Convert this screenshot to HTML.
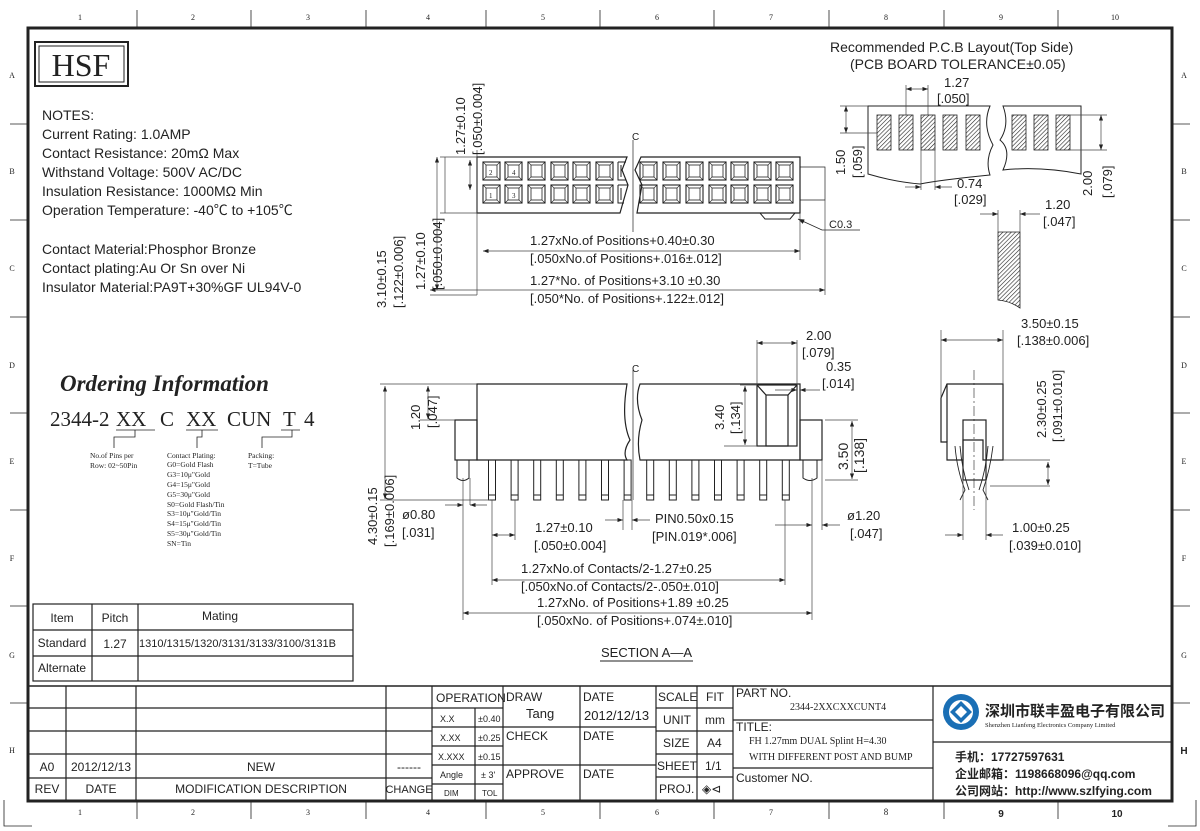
<!DOCTYPE html>
<html><head><meta charset="utf-8"><style>
html,body{margin:0;padding:0;background:#fff}
svg{display:block}
text{font-family:"Liberation Sans","Noto Sans CJK SC",sans-serif;fill:#222}
.s,.s text{font-family:"Liberation Serif","Noto Serif CJK SC",serif}
.d{font-size:13px;fill:#333}
</style></head><body>
<svg width="1200" height="831" viewBox="0 0 1200 831" xmlns="http://www.w3.org/2000/svg" xmlns:xlink="http://www.w3.org/1999/xlink" stroke="#222" fill="none" stroke-width="1">
<defs>
<pattern id="h" width="3" height="3" patternUnits="userSpaceOnUse" patternTransform="rotate(45)"><rect width="3" height="3" fill="#fff" stroke="none"/><line x1="0" y1="0" x2="0" y2="3" stroke="#222" stroke-width="1.2"/></pattern>
<marker id="a" markerWidth="8" markerHeight="6" refX="8" refY="3" orient="auto-start-reverse"><path d="M0,0 L8,3 L0,6z" fill="#222" stroke="none"/></marker>
<g id="c"><rect x="0" y="162" width="17" height="18" stroke-width="1.1"/><rect x="3" y="165" width="11" height="12" stroke-width="0.8"/><path d="M0,162 L3,165 M17,162 L14,165 M0,180 L3,177 M17,180 L14,177" stroke-width="0.6"/><rect x="0" y="185" width="17" height="18" stroke-width="1.1"/><rect x="3" y="188" width="11" height="12" stroke-width="0.8"/><path d="M0,185 L3,188 M17,185 L14,188 M0,203 L3,200 M17,203 L14,200" stroke-width="0.6"/></g>
<g id="p"><rect x="-3.5" y="460" width="7" height="40" stroke-width="1"/><line x1="-3.5" y1="495" x2="3.5" y2="495"/></g>
</defs>
<rect x="28" y="28" width="1144" height="773" stroke-width="3"/>
<g stroke-width="0.8">
<line x1="137" y1="10" x2="137" y2="28"/><line x1="251" y1="10" x2="251" y2="28"/><line x1="366" y1="10" x2="366" y2="28"/><line x1="486" y1="10" x2="486" y2="28"/><line x1="600" y1="10" x2="600" y2="28"/><line x1="714" y1="10" x2="714" y2="28"/><line x1="829" y1="10" x2="829" y2="28"/><line x1="944" y1="10" x2="944" y2="28"/><line x1="1058" y1="10" x2="1058" y2="28"/>
<line x1="137" y1="801" x2="137" y2="819"/><line x1="251" y1="801" x2="251" y2="819"/><line x1="366" y1="801" x2="366" y2="819"/><line x1="486" y1="801" x2="486" y2="819"/><line x1="600" y1="801" x2="600" y2="819"/><line x1="714" y1="801" x2="714" y2="819"/><line x1="829" y1="801" x2="829" y2="819"/><line x1="944" y1="801" x2="944" y2="819"/><line x1="1058" y1="801" x2="1058" y2="819"/>
<line x1="10" y1="124" x2="28" y2="124"/><line x1="10" y1="220" x2="28" y2="220"/><line x1="10" y1="317" x2="28" y2="317"/><line x1="10" y1="413" x2="28" y2="413"/><line x1="10" y1="510" x2="28" y2="510"/><line x1="10" y1="606" x2="28" y2="606"/><line x1="10" y1="703" x2="28" y2="703"/>
<line x1="1172" y1="124" x2="1190" y2="124"/><line x1="1172" y1="220" x2="1190" y2="220"/><line x1="1172" y1="317" x2="1190" y2="317"/><line x1="1172" y1="413" x2="1190" y2="413"/><line x1="1172" y1="510" x2="1190" y2="510"/><line x1="1172" y1="606" x2="1190" y2="606"/><line x1="1172" y1="703" x2="1190" y2="703"/>
<path d="M4,800 V826 H32"/><path d="M1196,800 V826 H1168"/>
</g>
<g class="s" font-size="8" stroke="none" text-anchor="middle">
<text x="80" y="20">1</text><text x="193" y="20">2</text><text x="308" y="20">3</text><text x="428" y="20">4</text><text x="543" y="20">5</text><text x="657" y="20">6</text><text x="771" y="20">7</text><text x="886" y="20">8</text><text x="1001" y="20">9</text><text x="1115" y="20">10</text>
<text x="80" y="815">1</text><text x="193" y="815">2</text><text x="308" y="815">3</text><text x="428" y="815">4</text><text x="543" y="815">5</text><text x="657" y="815">6</text><text x="771" y="815">7</text><text x="886" y="815" font-size="9">8</text>
<text x="12" y="78">A</text><text x="12" y="174">B</text><text x="12" y="271">C</text><text x="12" y="368">D</text><text x="12" y="464">E</text><text x="12" y="561">F</text><text x="12" y="658">G</text><text x="12" y="753">H</text>
<text x="1184" y="78">A</text><text x="1184" y="174">B</text><text x="1184" y="271">C</text><text x="1184" y="368">D</text><text x="1184" y="464">E</text><text x="1184" y="561">F</text><text x="1184" y="658">G</text>
</g>
<text x="1184" y="754" font-size="10" text-anchor="middle" stroke="none" font-weight="bold">H</text>
<text x="1001" y="817" font-size="10" text-anchor="middle" stroke="none" font-weight="bold">9</text>
<text x="1117" y="817" font-size="10" text-anchor="middle" stroke="none" font-weight="bold">10</text>

<rect x="35" y="42" width="93" height="44" stroke-width="2"/>
<rect x="39" y="46" width="85" height="36"/>
<text class="s" x="81" y="76" font-size="32" text-anchor="middle" stroke="none">HSF</text>

<g font-size="14" stroke="none" fill="#222">
<text x="42" y="120">NOTES:</text>
<text x="42" y="139">Current Rating: 1.0AMP</text>
<text x="42" y="158">Contact Resistance: 20mΩ Max</text>
<text x="42" y="177">Withstand Voltage: 500V AC/DC</text>
<text x="42" y="196">Insulation Resistance: 1000MΩ Min</text>
<text x="42" y="215">Operation Temperature: -40℃ to +105℃</text>
<text x="42" y="254">Contact Material:Phosphor Bronze</text>
<text x="42" y="273">Contact plating:Au Or Sn over Ni</text>
<text x="42" y="292">Insulator Material:PA9T+30%GF UL94V-0</text>
</g>

<text class="s" x="60" y="391" font-size="23" font-weight="bold" font-style="italic" stroke="none">Ordering Information</text>
<g class="s" font-size="21" stroke="none">
<text x="50" y="426">2344-2</text><text x="116" y="426">XX</text><text x="160" y="426">C</text><text x="186" y="426">XX</text><text x="227" y="426">CUN</text><text x="283" y="426">T</text><text x="304" y="426">4</text>
</g>
<g stroke-width="0.8">
<path d="M116,430 H155 M135,430 V437 H114 V448"/>
<path d="M186,430 H218 M202,430 V437 H197 V448"/>
<path d="M281,430 H300 M292,430 V437 H262 V448"/>
</g>
<g class="s" font-size="7.5" stroke="none">
<text x="90" y="458">No.of Pins per</text><text x="90" y="468">Row: 02~50Pin</text>
<text x="167" y="458">Contact Plating:</text><text x="167" y="467">G0=Gold Flash</text><text x="167" y="477">G3=10μ"Gold</text><text x="167" y="487">G4=15μ"Gold</text><text x="167" y="497">G5=30μ"Gold</text><text x="167" y="507">S0=Gold Flash/Tin</text><text x="167" y="516">S3=10μ"Gold/Tin</text><text x="167" y="526">S4=15μ"Gold/Tin</text><text x="167" y="536">S5=30μ"Gold/Tin</text><text x="167" y="546">SN=Tin</text>
<text x="248" y="458">Packing:</text><text x="248" y="468">T=Tube</text>
</g>
<g stroke-width="1.2">
<rect x="33" y="604" width="320" height="77"/>
<line x1="33" y1="630" x2="353" y2="630"/><line x1="33" y1="656" x2="353" y2="656"/>
<line x1="92" y1="604" x2="92" y2="681"/><line x1="138" y1="604" x2="138" y2="681"/>
</g>
<g font-size="12" stroke="none">
<text x="62" y="622" text-anchor="middle">Item</text><text x="115" y="622" text-anchor="middle">Pitch</text><text x="220" y="620" text-anchor="middle">Mating</text>
<text x="62" y="647" text-anchor="middle">Standard</text><text x="115" y="648" text-anchor="middle">1.27</text><text x="139" y="647" font-size="11">1310/1315/1320/3131/3133/3100/3131B</text>
<text x="62" y="672" text-anchor="middle">Alternate</text>
</g>

<path d="M477,157 H627 L622,170 L628,185 L620,213 H477 Z" stroke-width="1.2"/>
<path d="M641,157 H800 V213 H637 L642,185 L635,170 Z" stroke-width="1.2"/>
<path d="M760,213 L765,219 H790 L795,213"/>
<use xlink:href="#c" x="483"/><use xlink:href="#c" x="505"/><use xlink:href="#c" x="528"/><use xlink:href="#c" x="551"/><use xlink:href="#c" x="573"/><use xlink:href="#c" x="596"/>
<path d="M618,162 h8 M618,162 v18 h8 M618,185 h10 M618,185 v18 h6 M621,165 v12 M621,188 v12"/>
<use xlink:href="#c" x="640"/><use xlink:href="#c" x="663"/><use xlink:href="#c" x="686"/><use xlink:href="#c" x="709"/><use xlink:href="#c" x="731"/><use xlink:href="#c" x="754"/><use xlink:href="#c" x="776"/>
<line x1="633" y1="140" x2="633" y2="232" stroke-width="0.7"/>
<text x="632" y="140" font-size="10" stroke="none">C</text>
<path d="M800,167 H825 V200 H800" stroke-width="0.7"/>
<g font-size="7" class="s" stroke="none"><text x="489" y="175">2</text><text x="512" y="175">4</text><text x="489" y="198">1</text><text x="512" y="198">3</text></g>
<path d="M798,219 L822,230 H860" stroke-width="0.8" marker-start="url(#a)"/>
<text x="829" y="228" font-size="11" stroke="none">C0.3</text>

<g stroke-width="0.7" stroke="#444">
<line x1="477" y1="150" x2="477" y2="295"/><line x1="800" y1="213" x2="800" y2="260"/><line x1="825" y1="200" x2="825" y2="295"/>
<line x1="483" y1="251" x2="800" y2="251" marker-start="url(#a)" marker-end="url(#a)"/>
<line x1="430" y1="290" x2="825" y2="290" marker-start="url(#a)" marker-end="url(#a)"/>
<line x1="440" y1="157" x2="477" y2="157"/><line x1="440" y1="213" x2="477" y2="213"/><line x1="430" y1="295" x2="477" y2="295"/>
<line x1="470" y1="160" x2="470" y2="190" marker-start="url(#a)" marker-end="url(#a)"/>
<line x1="445" y1="157" x2="445" y2="213"/>
<line x1="437" y1="157" x2="437" y2="290" marker-start="url(#a)" marker-end="url(#a)"/>
</g>
<g class="d" stroke="none">
<text x="530" y="245">1.27xNo.of Positions+0.40±0.30</text>
<text x="530" y="263">[.050xNo.of Positions+.016±.012]</text>
<text x="530" y="285">1.27*No. of Positions+3.10 ±0.30</text>
<text x="530" y="303">[.050*No. of Positions+.122±.012]</text>
<text transform="translate(465,155) rotate(-90)">1.27±0.10</text>
<text transform="translate(482,155) rotate(-90)">[.050±0.004]</text>
<text transform="translate(386,308) rotate(-90)">3.10±0.15</text>
<text transform="translate(403,308) rotate(-90)">[.122±0.006]</text>
<text transform="translate(425,290) rotate(-90)">1.27±0.10</text>
<text transform="translate(442,290) rotate(-90)">[.050±0.004]</text>
</g>

<text x="830" y="52" font-size="14" stroke="none" fill="#333">Recommended P.C.B Layout(Top Side)</text>
<text x="850" y="69" font-size="14" stroke="none" fill="#333">(PCB BOARD TOLERANCE±0.05)</text>
<path d="M868,106 H990 Q982,125 993,145 Q985,160 990,175 Q940,180 920,184 Q895,182 868,174 Z" stroke-width="1"/>
<path d="M1003,106 H1081 V174 Q1040,166 1003,170 Q1012,150 1000,140 Q1010,125 1003,106 Z" stroke-width="1"/>
<g fill="url(#h)" stroke="#222" stroke-width="0.8">
<rect x="877" y="115" width="14" height="35"/><rect x="899" y="115" width="14" height="35"/><rect x="921" y="115" width="14" height="35"/><rect x="943" y="115" width="14" height="35"/><rect x="966" y="115" width="14" height="35"/>
<rect x="1012" y="115" width="14" height="35"/><rect x="1034" y="115" width="14" height="35"/><rect x="1056" y="115" width="14" height="35"/>
<path d="M998,232 H1020 V308 Q1010,301 998,300 Z"/>
</g>
<g stroke-width="0.7" stroke="#444">
<line x1="906" y1="85" x2="906" y2="115"/><line x1="928" y1="85" x2="928" y2="115"/>
<line x1="906" y1="89" x2="928" y2="89" marker-start="url(#a)" marker-end="url(#a)"/>
<line x1="921" y1="150" x2="921" y2="190"/><line x1="935" y1="150" x2="935" y2="190"/>
<line x1="905" y1="187" x2="921" y2="187" marker-end="url(#a)"/><line x1="952" y1="187" x2="935" y2="187" marker-end="url(#a)"/>
<line x1="840" y1="106" x2="868" y2="106"/><line x1="840" y1="133" x2="877" y2="133"/>
<line x1="846" y1="106" x2="846" y2="133" marker-start="url(#a)" marker-end="url(#a)"/>
<line x1="1070" y1="115" x2="1107" y2="115"/><line x1="1070" y1="150" x2="1107" y2="150"/>
<line x1="1101" y1="115" x2="1101" y2="150" marker-start="url(#a)" marker-end="url(#a)"/>
<line x1="998" y1="210" x2="998" y2="232"/><line x1="1020" y1="210" x2="1020" y2="232"/>
<line x1="980" y1="214" x2="998" y2="214" marker-end="url(#a)"/><line x1="1040" y1="214" x2="1020" y2="214" marker-end="url(#a)"/>
</g>
<g class="d" stroke="none" font-size="14">
<text x="944" y="87">1.27</text><text x="937" y="103">[.050]</text>
<text x="957" y="188">0.74</text><text x="954" y="204">[.029]</text>
<text x="1045" y="209" font-size="13">1.20</text><text x="1043" y="226" font-size="13">[.047]</text>
<text transform="translate(845,175) rotate(-90)">1.50</text><text transform="translate(862,178) rotate(-90)">[.059]</text>
<text transform="translate(1092,196) rotate(-90)" font-size="13">2.00</text><text transform="translate(1112,198) rotate(-90)" font-size="13">[.079]</text>
</g>

<g stroke-width="1.2">
<path d="M477,384 H627 Q621,420 630,440 Q622,452 627,460 H477 Z"/>
<path d="M640,384 H800 V460 H640 Q636,440 642,420 Q634,400 640,384 Z"/>
<rect x="455" y="420" width="22" height="40"/><rect x="800" y="420" width="22" height="40"/>
<rect x="757" y="385" width="40" height="61"/>
<rect x="766" y="395" width="22" height="51"/>
<path d="M757,385 L766,395 M797,385 L788,395"/>
<path d="M457,460 V478 Q463,483 469,478 V460 M803,460 V478 Q810,483 817,478 V460" stroke-width="1"/>
</g>
<use xlink:href="#p" x="492"/><use xlink:href="#p" x="514.6"/><use xlink:href="#p" x="537.2"/><use xlink:href="#p" x="559.8"/><use xlink:href="#p" x="582.4"/><use xlink:href="#p" x="605"/><use xlink:href="#p" x="627.6"/><use xlink:href="#p" x="650.2"/><use xlink:href="#p" x="672.8"/><use xlink:href="#p" x="695.4"/><use xlink:href="#p" x="718"/><use xlink:href="#p" x="740.6"/><use xlink:href="#p" x="763.2"/><use xlink:href="#p" x="785.8"/>
<line x1="633" y1="370" x2="633" y2="500" stroke-width="0.7"/>
<text x="632" y="372" font-size="10" stroke="none">C</text>
<g stroke-width="0.7" stroke="#444">
<line x1="757" y1="340" x2="757" y2="385"/><line x1="797" y1="340" x2="797" y2="385"/>
<line x1="757" y1="343" x2="797" y2="343" marker-start="url(#a)" marker-end="url(#a)"/>
<line x1="775" y1="390" x2="797" y2="390" marker-end="url(#a)"/><line x1="820" y1="390" x2="800" y2="390" marker-end="url(#a)"/>
<line x1="740" y1="385" x2="757" y2="385"/><line x1="724" y1="446" x2="757" y2="446"/>
<line x1="745" y1="386" x2="745" y2="445" marker-start="url(#a)" marker-end="url(#a)"/>
<line x1="825" y1="420" x2="858" y2="420"/><line x1="825" y1="480" x2="858" y2="480"/>
<line x1="852" y1="421" x2="852" y2="479" marker-start="url(#a)" marker-end="url(#a)"/>
<line x1="380" y1="384" x2="477" y2="384"/><line x1="420" y1="420" x2="455" y2="420"/><line x1="380" y1="500" x2="490" y2="500"/>
<line x1="428" y1="386" x2="428" y2="419" marker-start="url(#a)" marker-end="url(#a)"/>
<line x1="385" y1="386" x2="385" y2="499" marker-start="url(#a)" marker-end="url(#a)"/>
<line x1="463" y1="478" x2="463" y2="620"/><line x1="470" y1="478" x2="470" y2="505"/>
<line x1="445" y1="505" x2="463" y2="505" marker-end="url(#a)"/><line x1="487" y1="505" x2="470" y2="505" marker-end="url(#a)"/>
<line x1="492" y1="500" x2="492" y2="585"/><line x1="515" y1="500" x2="515" y2="540"/>
<line x1="492" y1="535" x2="515" y2="535" marker-start="url(#a)" marker-end="url(#a)"/>
<line x1="623" y1="500" x2="623" y2="530"/><line x1="632" y1="500" x2="632" y2="530"/>
<line x1="605" y1="520" x2="623" y2="520" marker-end="url(#a)"/><line x1="650" y1="520" x2="632" y2="520" marker-end="url(#a)"/>
<line x1="785" y1="500" x2="785" y2="585"/><line x1="812" y1="478" x2="812" y2="620"/><line x1="822" y1="460" x2="822" y2="530"/>
<line x1="775" y1="525" x2="812" y2="525" marker-end="url(#a)"/><line x1="840" y1="525" x2="822" y2="525" marker-end="url(#a)"/>
<line x1="492" y1="580" x2="785" y2="580" marker-start="url(#a)" marker-end="url(#a)"/>
<line x1="463" y1="613" x2="812" y2="613" marker-start="url(#a)" marker-end="url(#a)"/>
</g>
<g class="d" stroke="none">
<text x="806" y="340">2.00</text><text x="802" y="357">[.079]</text>
<text x="826" y="371">0.35</text><text x="822" y="388">[.014]</text>
<text transform="translate(724,430) rotate(-90)">3.40</text><text transform="translate(740,434) rotate(-90)">[.134]</text>
<text transform="translate(848,470) rotate(-90)" font-size="14" fill="#222">3.50</text><text transform="translate(864,473) rotate(-90)" font-size="14" fill="#222">[.138]</text>
<text transform="translate(420,430) rotate(-90)">1.20</text><text transform="translate(437,428) rotate(-90)">[.047]</text>
<text transform="translate(377,545) rotate(-90)">4.30±0.15</text><text transform="translate(394,547) rotate(-90)">[.169±0.006]</text>
<text x="402" y="519">ø0.80</text><text x="402" y="537">[.031]</text>
<text x="535" y="532">1.27±0.10</text><text x="534" y="550">[.050±0.004]</text>
<text x="655" y="523">PIN0.50x0.15</text><text x="652" y="541">[PIN.019*.006]</text>
<text x="847" y="520">ø1.20</text><text x="850" y="538">[.047]</text>
<text x="521" y="573">1.27xNo.of Contacts/2-1.27±0.25</text>
<text x="521" y="591">[.050xNo.of Contacts/2-.050±.010]</text>
<text x="537" y="607">1.27xNo. of Positions+1.89 ±0.25</text>
<text x="537" y="625">[.050xNo. of Positions+.074±.010]</text>
</g>
<text x="601" y="657" font-size="13" stroke="none">SECTION A—A</text>
<line x1="600" y1="661" x2="693" y2="661" stroke-width="1"/>

<g stroke-width="1.2">
<path d="M941,398 L947,384 H1003 V460 H983 V440 H963 V460 H947 V442 H941 Z"/>
<path d="M947,384 V442"/>
<rect x="963" y="420" width="23" height="60"/>
<path d="M955,446 Q957,470 965,490 L960,500 M960,446 Q962,470 969,490" stroke-width="0.9"/>
<path d="M993,446 Q990,470 983,490 L988,500 M988,446 Q986,470 979,490" stroke-width="0.9"/>
</g>
<line x1="974" y1="370" x2="974" y2="510" stroke-width="0.6" stroke-dasharray="10,3,2,3"/>
<g stroke-width="0.7" stroke="#444">
<line x1="941" y1="330" x2="941" y2="398"/><line x1="1003" y1="330" x2="1003" y2="384"/>
<line x1="941" y1="340" x2="1003" y2="340" marker-start="url(#a)" marker-end="url(#a)"/>
<line x1="1003" y1="460" x2="1050" y2="460"/><line x1="990" y1="486" x2="1050" y2="486"/>
<line x1="1048" y1="462" x2="1048" y2="485" marker-start="url(#a)" marker-end="url(#a)"/>
<line x1="963" y1="480" x2="963" y2="540"/><line x1="986" y1="480" x2="986" y2="540"/>
<line x1="945" y1="535" x2="963" y2="535" marker-end="url(#a)"/><line x1="1003" y1="535" x2="986" y2="535" marker-end="url(#a)"/>
</g>
<g class="d" stroke="none">
<text x="1021" y="328">3.50±0.15</text><text x="1017" y="345">[.138±0.006]</text>
<text transform="translate(1046,438) rotate(-90)">2.30±0.25</text><text transform="translate(1062,442) rotate(-90)">[.091±0.010]</text>
<text x="1012" y="532">1.00±0.25</text><text x="1009" y="550">[.039±0.010]</text>
</g>

<g stroke-width="1.2">
<line x1="28" y1="686" x2="1172" y2="686" stroke-width="1.5"/>
<line x1="28" y1="708" x2="432" y2="708"/><line x1="28" y1="731" x2="432" y2="731"/><line x1="28" y1="754" x2="432" y2="754"/><line x1="28" y1="778" x2="432" y2="778"/>
<line x1="66" y1="686" x2="66" y2="801"/><line x1="136" y1="686" x2="136" y2="801"/><line x1="386" y1="686" x2="386" y2="801"/><line x1="432" y1="686" x2="432" y2="801"/>
<line x1="475" y1="708" x2="475" y2="801"/><line x1="503" y1="686" x2="503" y2="801"/><line x1="580" y1="686" x2="580" y2="801"/><line x1="656" y1="686" x2="656" y2="801"/><line x1="697" y1="686" x2="697" y2="801"/><line x1="733" y1="686" x2="733" y2="801"/><line x1="933" y1="686" x2="933" y2="801"/>
<line x1="432" y1="708" x2="503" y2="708"/><line x1="432" y1="727" x2="503" y2="727"/><line x1="432" y1="746" x2="503" y2="746"/><line x1="432" y1="765" x2="503" y2="765"/><line x1="432" y1="784" x2="503" y2="784"/>
<line x1="503" y1="727" x2="656" y2="727"/><line x1="503" y1="765" x2="656" y2="765"/>
<line x1="656" y1="708" x2="733" y2="708"/><line x1="656" y1="731" x2="733" y2="731"/><line x1="656" y1="754" x2="733" y2="754"/><line x1="656" y1="777" x2="733" y2="777"/>
<line x1="733" y1="720" x2="933" y2="720"/><line x1="733" y1="768" x2="933" y2="768"/>
<line x1="933" y1="742" x2="1172" y2="742"/>
</g>
<g font-size="12" stroke="none">
<text x="47" y="771" text-anchor="middle">A0</text><text x="101" y="771" text-anchor="middle">2012/12/13</text><text x="261" y="771" text-anchor="middle">NEW</text><text x="409" y="771" text-anchor="middle">------</text>
<text x="47" y="793" text-anchor="middle">REV</text><text x="101" y="793" text-anchor="middle">DATE</text><text x="261" y="793" text-anchor="middle">MODIFICATION DESCRIPTION</text><text x="409" y="793" text-anchor="middle" font-size="11">CHANGE</text>
<text x="436" y="702">OPERATION</text>
<text x="440" y="722" font-size="9">X.X</text><text x="478" y="722" font-size="9">±0.40</text>
<text x="440" y="741" font-size="9">X.XX</text><text x="478" y="741" font-size="9">±0.25</text>
<text x="438" y="760" font-size="9">X.XXX</text><text x="478" y="760" font-size="9">±0.15</text>
<text x="440" y="778" font-size="9">Angle</text><text x="481" y="778" font-size="9">± 3'</text>
<text x="444" y="796" font-size="8">DIM</text><text x="482" y="796" font-size="8">TOL</text>
<text x="506" y="701">DRAW</text><text x="526" y="718" font-size="13">Tang</text>
<text x="506" y="740">CHECK</text><text x="506" y="778">APPROVE</text>
<text x="583" y="701">DATE</text><text x="584" y="720" font-size="13">2012/12/13</text><text x="583" y="740">DATE</text><text x="583" y="778">DATE</text>
<text x="658" y="701">SCALE</text><text x="706" y="701">FIT</text>
<text x="663" y="724">UNIT</text><text x="705" y="724">mm</text>
<text x="663" y="747">SIZE</text><text x="707" y="747">A4</text>
<text x="657" y="770">SHEET</text><text x="705" y="770">1/1</text>
<text x="659" y="793">PROJ.</text><text x="702" y="793">◈⊲</text>
<text x="736" y="697">PART NO.</text>
<text x="736" y="731">TITLE:</text>
<text x="736" y="782">Customer NO.</text>
</g>
<g class="s" font-size="10" stroke="none">
<text x="790" y="710">2344-2XXCXXCUNT4</text>
<text x="749" y="744">FH 1.27mm  DUAL Splint H=4.30</text>
<text x="749" y="760">WITH DIFFERENT POST AND BUMP</text>
</g>
<circle cx="961" cy="712" r="18" fill="#1a6fb5" stroke="none"/>
<circle cx="961" cy="712" r="12" fill="#fff" stroke="none"/>
<path d="M961,701 L972,712 L961,723 L950,712 Z" fill="#1a6fb5" stroke="none"/>
<path d="M961,706 L967,712 L961,718 L955,712 Z" fill="#fff" stroke="none"/>
<text x="985" y="716" font-size="15" font-weight="bold" fill="#1a3f8a" stroke="none" font-family="'Noto Sans CJK SC',sans-serif">深圳市联丰盈电子有限公司</text>
<text class="s" x="985" y="727" font-size="6.5" fill="#333" stroke="none">Shenzhen Lianfeng Electronics Company Limited</text>
<g font-size="12" fill="#333" stroke="none" font-weight="bold">
<text x="955" y="761">手机：17727597631</text>
<text x="955" y="778">企业邮箱：1198668096@qq.com</text>
<text x="955" y="795">公司网站：http://www.szlfying.com</text>
</g>
</svg>
</body></html>
